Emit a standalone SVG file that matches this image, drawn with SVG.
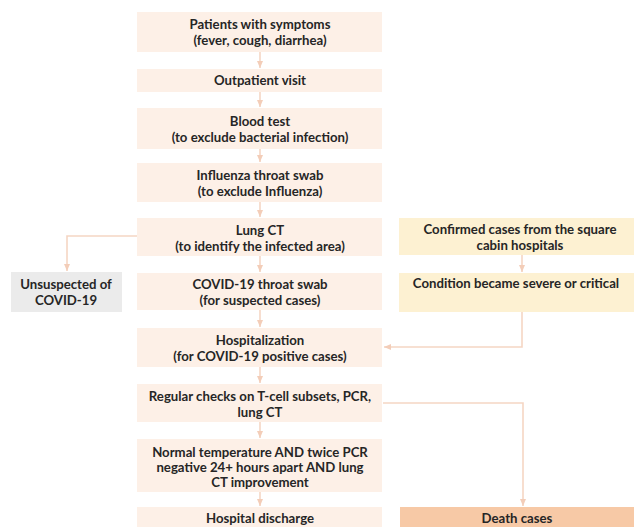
<svg xmlns="http://www.w3.org/2000/svg" width="636" height="527" viewBox="0 0 636 527">
<defs>
<marker id="ah" markerWidth="8" markerHeight="8" refX="7" refY="4" orient="auto" markerUnits="userSpaceOnUse">
<path d="M0,1 L7,4 L0,7 Z" fill="#f3cdb8"/>
</marker>
</defs>
<style>
.main{fill:#fdf0e7}
.yel{fill:#fdf1d2}
.grey{fill:#ebebeb}
.death{fill:#f7c9a6}
text{font-family:Lato,"Liberation Sans",sans-serif;font-weight:700;font-size:13.2px;fill:#262626;text-anchor:middle}
.c{fill:none;stroke:#f5d6c4;stroke-width:1.6}
</style>
<rect width="636" height="527" fill="#ffffff"/>
<g id="connectors">
<path class="c" d="M260,52 V68" marker-end="url(#ah)"/>
<path class="c" d="M260,92 V107" marker-end="url(#ah)"/>
<path class="c" d="M260,149 V162" marker-end="url(#ah)"/>
<path class="c" d="M260,202 V217" marker-end="url(#ah)"/>
<path class="c" d="M260,256 V272" marker-end="url(#ah)"/>
<path class="c" d="M260,310 V327" marker-end="url(#ah)"/>
<path class="c" d="M260,367 V383" marker-end="url(#ah)"/>
<path class="c" d="M260,422 V438" marker-end="url(#ah)"/>
<path class="c" d="M260,492 V506" marker-end="url(#ah)"/>
<path class="c" d="M137,236 H67 V271" marker-end="url(#ah)"/>
<path class="c" d="M522,255 V272" marker-end="url(#ah)"/>
<path class="c" d="M522,312 V347 H384" marker-end="url(#ah)"/>
<path class="c" d="M383,403 H523 V506" marker-end="url(#ah)"/>
</g>
<g id="n1"><rect class="main" x="137" y="12" width="245" height="40"/><text x="260" y="29">Patients with symptoms</text><text x="260" y="45">(fever, cough, diarrhea)</text></g>
<g id="n2"><rect class="main" x="137" y="69" width="245" height="23"/><text x="260" y="85">Outpatient visit</text></g>
<g id="n3"><rect class="main" x="137" y="108" width="245" height="41"/><text x="260" y="126">Blood test</text><text x="260" y="142">(to exclude bacterial infection)</text></g>
<g id="n4"><rect class="main" x="137" y="163" width="245" height="39"/><text x="260" y="180">Influenza throat swab</text><text x="260" y="196">(to exclude Influenza)</text></g>
<g id="n5"><rect class="main" x="137" y="218" width="245" height="38"/><text x="260" y="235">Lung CT</text><text x="260" y="251">(to identify the infected area)</text></g>
<g id="n6"><rect class="main" x="137" y="273" width="245" height="37"/><text x="260" y="289">COVID-19 throat swab</text><text x="260" y="305">(for suspected cases)</text></g>
<g id="n7"><rect class="main" x="137" y="328" width="245" height="39"/><text x="260" y="345">Hospitalization</text><text x="260" y="361">(for COVID-19 positive cases)</text></g>
<g id="n8"><rect class="main" x="137" y="384" width="245" height="38"/><text x="260" y="401">Regular checks on T-cell subsets, PCR,</text><text x="260" y="417">lung CT</text></g>
<g id="n9"><rect class="main" x="137" y="439" width="245" height="53"/><text x="260" y="457">Normal temperature AND twice PCR</text><text x="260" y="472">negative 24+ hours apart AND lung</text><text x="260" y="487">CT improvement</text></g>
<g id="n10"><rect class="main" x="137" y="507" width="245" height="25"/><text x="260" y="523">Hospital discharge</text></g>
<g id="n11"><rect class="grey" x="11" y="272" width="111" height="40"/><text x="66" y="289">Unsuspected of</text><text x="66" y="305">COVID-19</text></g>
<g id="n12"><rect class="yel" x="399" y="218" width="235" height="37"/><text x="520" y="234">Confirmed cases from the square</text><text x="520" y="250">cabin hospitals</text></g>
<g id="n13"><rect class="yel" x="399" y="273" width="235" height="39"/><text x="516" y="288">Condition became severe or critical</text></g>
<g id="n14"><rect class="death" x="400" y="507" width="234" height="25"/><text x="517" y="523">Death cases</text></g>
</svg>
